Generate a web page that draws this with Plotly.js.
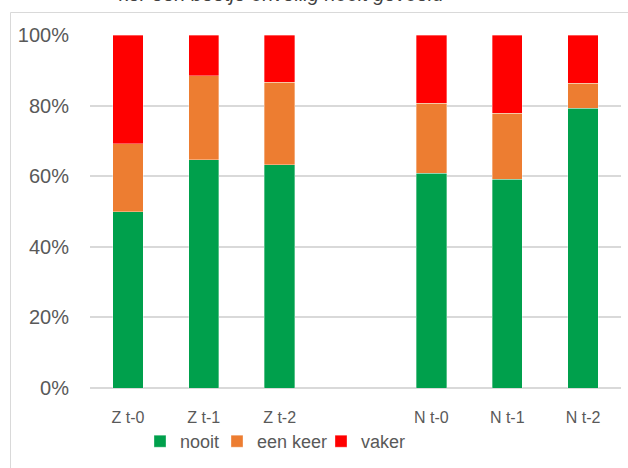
<!DOCTYPE html>
<html>
<head>
<meta charset="utf-8">
<script src="https://cdn.plot.ly/plotly-3.0.1.min.js"></script>
<style>
  html, body { margin: 0; padding: 0; background: #fff; }
  #chart { width: 628px; height: 468px; }
</style>
</head>
<body>
<div id="chart"></div>
<script>
// Categories (blank slot between the Z and N groups)
const categories = ['Z t-0', 'Z t-1', 'Z t-2', ' ', 'N t-0', 'N t-1', 'N t-2'];
// Shares per answer (fractions of 1)
const nooit    = [0.50, 0.647, 0.633, null, 0.608, 0.592, 0.793];
const eenKeer  = [0.192, 0.237, 0.233, null, 0.198, 0.186, 0.070];
const vaker    = [0.308, 0.116, 0.134, null, 0.194, 0.222, 0.137];
const seriesNames = ['nooit', 'een keer', 'vaker'];
const yTickVals = [0, 0.2, 0.4, 0.6, 0.8, 1.0];
const titleText = 'ker een beetje onveilig nooit gevoeld';

const colors = ['#00A04C', '#ED7D31', '#FF0000'];
const legendWidths = [32, 59, 0];
const seriesValues = [nooit, eenKeer, vaker];

const traces = seriesValues.map((vals, i) => ({
  type: 'bar',
  name: seriesNames[i],
  x: categories,
  y: vals,
  marker: { color: colors[i], line: { width: 0.75, color: 'rgba(255,255,255,0.45)' } },
  legendwidth: legendWidths[i] || undefined,
  hoverinfo: 'x+y+name'
}));

// plot area: x 90..621, y 35..388
const L = 90, R = 7, T = 35, B = 80, W = 628, H = 468;
const pw = W - L - R, ph = H - T - B;
const px = v => (v - L) / pw;
const py = v => (H - B - v) / ph;

const font = 'Liberation Sans, Arial, sans-serif';

const layout = {
  width: W, height: H,
  margin: { l: L, r: R, t: T, b: B, pad: 0 },
  paper_bgcolor: '#ffffff',
  plot_bgcolor: '#ffffff',
  barmode: 'stack',
  bargap: 0.6,
  showlegend: true,
  font: { family: font, color: '#595959' },
  xaxis: {
    type: 'category',
    categoryorder: 'array',
    categoryarray: categories,
    showgrid: false,
    zeroline: false,
    showline: false,
    ticks: '',
    ticklabelstandoff: 18,
    tickfont: { family: font, size: 16, color: '#595959' },
    fixedrange: true
  },
  yaxis: {
    range: [0, 1],
    tickvals: yTickVals,
    tickformat: '.0%',
    showgrid: true,
    gridcolor: '#D9D9D9',
    gridwidth: 2,
    zeroline: true,
    zerolinecolor: '#D9D9D9',
    zerolinewidth: 2,
    showline: false,
    ticks: '',
    ticklabelstandoff: 20,
    tickfont: { family: font, size: 20, color: '#595959' },
    fixedrange: true
  },
  legend: {
    orientation: 'h',
    traceorder: 'normal',
    x: px(140), xanchor: 'left',
    y: py(423), yanchor: 'top',
    font: { family: font, size: 18, color: '#595959' },
    bgcolor: 'rgba(0,0,0,0)',
    borderwidth: 0
  },
  annotations: [{
    text: '<i>' + titleText + '</i>',
    xref: 'paper', yref: 'paper',
    x: px(281.5), xanchor: 'center',
    y: py(7), yanchor: 'bottom',
    showarrow: false,
    font: { family: font, size: 20, color: '#404040' }
  }],
  shapes: [{
    type: 'rect',
    xref: 'paper', yref: 'paper',
    x0: px(10.5), x1: px(700),
    y0: py(600), y1: py(12.5),
    line: { color: '#D9D9D9', width: 1 },
    fillcolor: 'rgba(0,0,0,0)',
    layer: 'below'
  }]
};

Plotly.newPlot('chart', traces, layout, { displayModeBar: false, staticPlot: true });
</script>
</body>
</html>
